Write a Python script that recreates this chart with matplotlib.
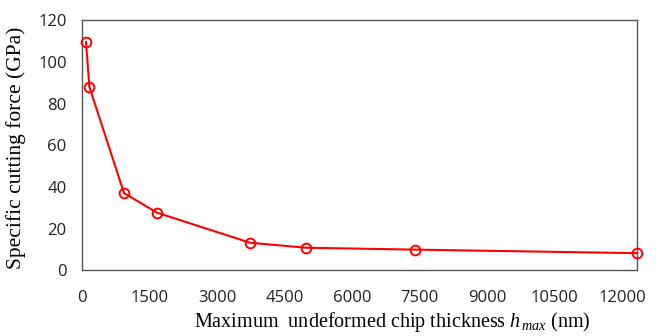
import matplotlib.pyplot as plt

plt.rcParams['mathtext.fontset'] = 'custom'
plt.rcParams['mathtext.it'] = 'Liberation Serif:italic'
plt.rcParams['mathtext.rm'] = 'Liberation Serif'

# chip thickness (nm) vs specific cutting force (GPa)
h_max = [89, 163, 933, 1667, 3733, 4978, 7400, 12330]
force = [109.5, 88.1, 37.1, 27.7, 13.3, 10.9, 10.0, 8.3]

x_ticks = [0, 1500, 3000, 4500, 6000, 7500, 9000, 10500, 12000]
y_ticks = [0, 20, 40, 60, 80, 100, 120]

fig = plt.figure(figsize=(6.56, 3.36), dpi=100)
ax = fig.add_axes([0.125, 0.195, 0.846, 0.745])

ax.plot(h_max, force, color='#ff0000', linewidth=1.5, marker='o', markersize=7,
        markerfacecolor='none', markeredgecolor='#ff0000', markeredgewidth=1.4,
        clip_on=False, zorder=3)

ax.set_xlim(0, 12330)
ax.set_ylim(0, 120)
ax.set_xticks(x_ticks)
ax.set_yticks(y_ticks)
ax.tick_params(length=0, labelsize=12, labelcolor='#222222')
ax.tick_params(axis='x', pad=14)
ax.tick_params(axis='y', pad=11)
for lab in ax.get_xticklabels() + ax.get_yticklabels():
    lab.set_family('Open Sans')

for s in ax.spines.values():
    s.set_color('#555555')
    s.set_linewidth(1.0)

serif = 'Liberation Serif'
ax.set_ylabel('Specific cutting force (GPa)', family=serif, fontsize=15.5, labelpad=9, y=0.49)
ax.set_xlabel(r'Maximum  undeformed chip thickness $h_{\,max}$ (nm)',
              family=serif, fontsize=14.5, labelpad=3, x=0.56)

fig.savefig('out.png', dpi=100)
